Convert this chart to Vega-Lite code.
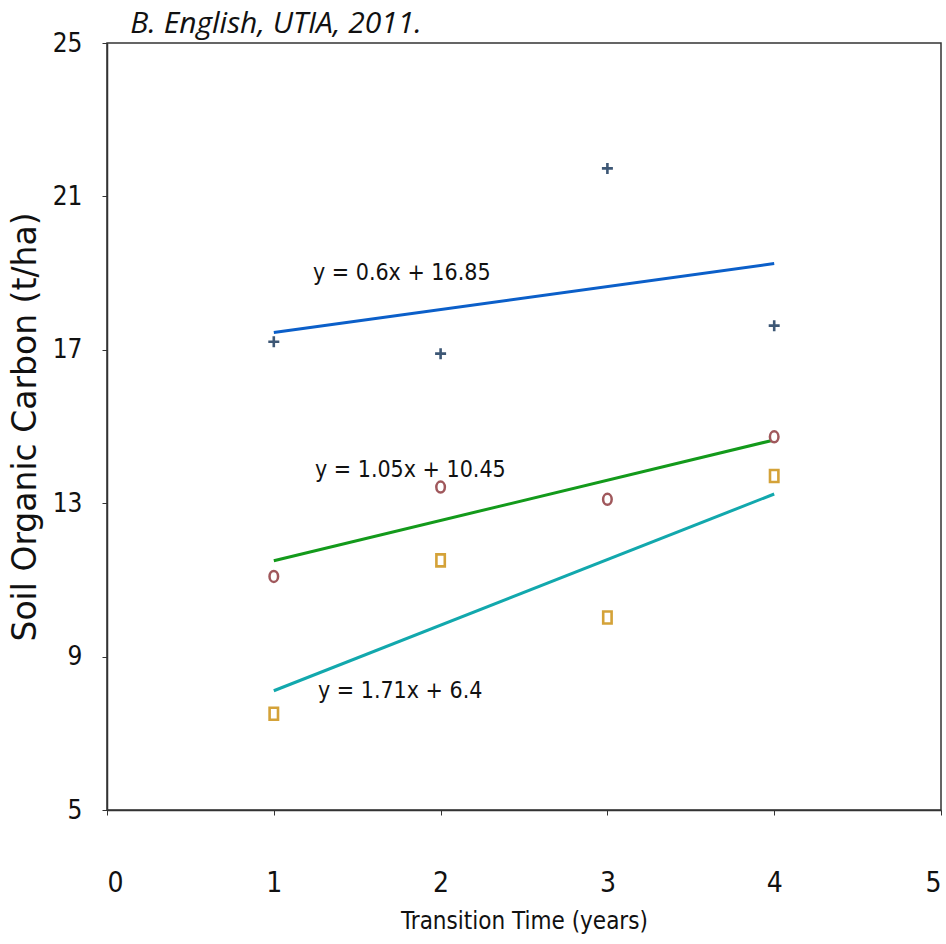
{
  "$schema": "https://vega.github.io/schema/vega-lite/v6.json",
  "width": 834,
  "height": 767,
  "autosize": {"type": "none"},
  "padding": {"left": 107, "top": 43, "right": 5, "bottom": 134},
  "background": "white",
  "config": {
    "view": {"stroke": "#333333", "strokeWidth": 1.5},
    "axis": {
      "grid": false,
      "domainColor": "#333333",
      "domainWidth": 1.5,
      "tickColor": "#333333",
      "tickSize": 5,
      "labelFont": "DejaVu Sans Condensed",
      "labelFontSize": 26,
      "labelColor": "#111111",
      "titleFont": "DejaVu Sans Condensed",
      "titleFontWeight": "normal",
      "titleColor": "#111111"
    }
  },
  "datasets": {
    "points": [
      {"series": "A", "x": 1, "y": 17.21},
      {"series": "A", "x": 2, "y": 16.9},
      {"series": "A", "x": 3, "y": 21.73},
      {"series": "A", "x": 4, "y": 17.63},
      {"series": "B", "x": 1, "y": 11.09},
      {"series": "B", "x": 2, "y": 13.42},
      {"series": "B", "x": 3, "y": 13.1},
      {"series": "B", "x": 4, "y": 14.73},
      {"series": "C", "x": 1, "y": 7.51},
      {"series": "C", "x": 2, "y": 11.51},
      {"series": "C", "x": 3, "y": 10.02},
      {"series": "C", "x": 4, "y": 13.71}
    ],
    "lines": [
      {"series": "A", "x": 1, "y": 17.45},
      {"series": "A", "x": 4, "y": 19.25},
      {"series": "B", "x": 1, "y": 11.5},
      {"series": "B", "x": 4, "y": 14.65},
      {"series": "C", "x": 1, "y": 8.11},
      {"series": "C", "x": 4, "y": 13.24}
    ],
    "labels": [
      {"x": 1.235, "y": 19.0, "label": "y = 0.6x + 16.85"},
      {"x": 1.247, "y": 13.87, "label": "y = 1.05x + 10.45"},
      {"x": 1.265, "y": 8.1, "label": "y = 1.71x + 6.4"}
    ],
    "credit": [
      {"x": 0.14, "y": 25.26, "label": "B. English, UTIA, 2011."}
    ]
  },
  "layer": [
    {
      "data": {"name": "lines"},
      "mark": {"type": "line", "strokeWidth": 3, "clip": false},
      "encoding": {
        "x": {
          "field": "x", "type": "quantitative",
          "scale": {"domain": [0, 5], "nice": false, "zero": false},
          "axis": {"values": [0, 1, 2, 3, 4, 5], "format": "d", "title": "Transition Time (years)", "titleFontSize": 24, "titlePadding": 12, "labelPadding": 54, "labelFontSize": 28}
        },
        "y": {
          "field": "y", "type": "quantitative",
          "scale": {"domain": [5, 25], "nice": false, "zero": false},
          "axis": {"values": [5, 9, 13, 17, 21, 25], "format": "d", "title": "Soil Organic Carbon (t/ha)", "titleFont": "DejaVu Sans", "titleFontSize": 33, "titlePadding": 10, "labelPadding": 20}
        },
        "detail": {"field": "series"},
        "color": {
          "field": "series", "type": "nominal", "legend": null,
          "scale": {"domain": ["A", "B", "C"], "range": ["#0b5fc9", "#139a1b", "#12a8ad"]}
        }
      }
    },
    {
      "data": {"name": "points"},
      "transform": [{"filter": "datum.series === 'A'"}],
      "mark": {"type": "point", "shape": "M-1,0L1,0M0,-1L0,1", "filled": false, "stroke": "#3d5775", "strokeWidth": 2.6, "size": 121, "opacity": 1},
      "encoding": {
        "x": {"field": "x", "type": "quantitative"},
        "y": {"field": "y", "type": "quantitative"}
      }
    },
    {
      "data": {"name": "points"},
      "transform": [{"filter": "datum.series === 'B'"}],
      "mark": {"type": "point", "shape": "M-0.78,0A0.78,1,0,1,0,0.78,0A0.78,1,0,1,0,-0.78,0Z", "filled": false, "fill": "white", "stroke": "#a0585c", "strokeWidth": 2.5, "size": 121, "opacity": 1},
      "encoding": {
        "x": {"field": "x", "type": "quantitative"},
        "y": {"field": "y", "type": "quantitative"}
      }
    },
    {
      "data": {"name": "points"},
      "transform": [{"filter": "datum.series === 'C'"}],
      "mark": {"type": "point", "shape": "M-0.7,-1H0.7V1H-0.7Z", "filled": false, "fill": "white", "stroke": "#d4a238", "strokeWidth": 2.6, "size": 144, "opacity": 1},
      "encoding": {
        "x": {"field": "x", "type": "quantitative"},
        "y": {"field": "y", "type": "quantitative"}
      }
    },
    {
      "data": {"name": "labels"},
      "mark": {"type": "text", "align": "left", "baseline": "middle", "font": "DejaVu Sans Condensed", "fontSize": 23, "color": "#111111"},
      "encoding": {
        "x": {"field": "x", "type": "quantitative"},
        "y": {"field": "y", "type": "quantitative"},
        "text": {"field": "label"}
      }
    },
    {
      "data": {"name": "credit"},
      "mark": {"type": "text", "align": "left", "baseline": "alphabetic", "font": "Open Sans", "fontStyle": "italic", "fontSize": 30, "color": "#111111", "clip": false},
      "encoding": {
        "x": {"field": "x", "type": "quantitative"},
        "y": {"field": "y", "type": "quantitative"},
        "text": {"field": "label"}
      }
    }
  ]
}
